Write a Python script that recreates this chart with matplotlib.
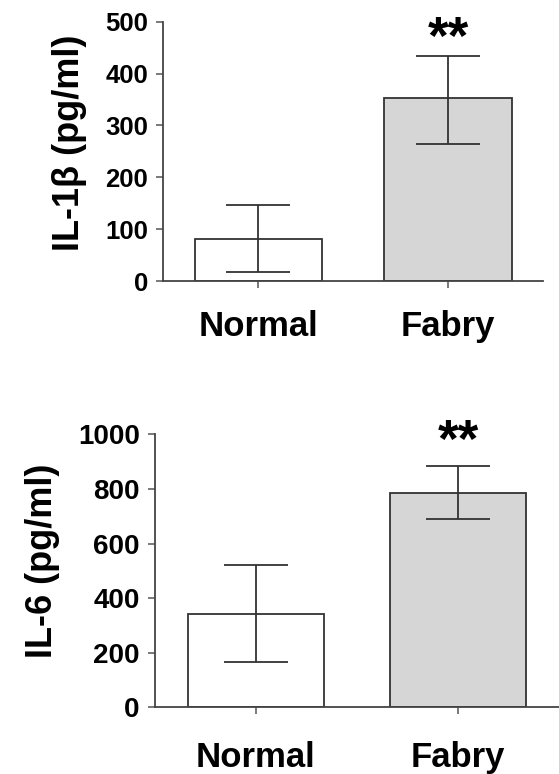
import matplotlib
matplotlib.use('Agg')
import matplotlib.pyplot as plt

plt.rcParams['font.family'] = ['Liberation Sans', 'DejaVu Sans']
plt.rcParams['font.weight'] = 'bold'

groups = ['Normal', 'Fabry']
bar_colors = ['#ffffff', '#d6d6d6']

# IL-1beta
il1b_mean = [81, 352]
il1b_upper = [146, 433]
il1b_lower = [18, 265]

# IL-6
il6_mean = [341, 786]
il6_upper = [521, 885]
il6_lower = [167, 689]

W, H = 559, 774
fig = plt.figure(figsize=(W / 100, H / 100), dpi=100)

ax1 = fig.add_axes([163.3 / W, 1 - 281 / H, (543 - 163.3) / W, (281 - 21.7) / H])
ax2 = fig.add_axes([155 / W, 1 - 707.3 / H, (559 - 155) / W, (707.3 - 434.3) / H])


def panel(ax, mean, upper, lower, ylim, step, ylabel, lab_xy, tick_fs, star_y, xpad):
    x = list(range(len(groups)))
    ax.bar(x, mean, width=0.67, color=bar_colors, edgecolor='#333333', linewidth=1.3, zorder=2)
    yerr = [[m - lo for m, lo in zip(mean, lower)], [u - m for m, u in zip(mean, upper)]]
    ax.errorbar(x, mean, yerr=yerr, fmt='none', ecolor='#333333', elinewidth=1.3,
                capsize=23, capthick=1.3, zorder=3)
    ax.set_xlim(-0.5, 1.5)
    ax.set_ylim(0, ylim)
    ax.set_yticks(range(0, ylim + 1, step))
    ax.set_xticks(x)
    ax.set_xticklabels(groups, fontsize=25, fontweight='bold')
    ax.tick_params(axis='y', labelsize=tick_fs, length=5, width=1.1, pad=6, color='#555555')
    ax.tick_params(axis='x', length=5, width=1.1, pad=xpad, color='#555555')
    for lab in ax.get_yticklabels():
        lab.set_fontweight('bold')
    for s in ['top', 'right']:
        ax.spines[s].set_visible(False)
    for s in ['left', 'bottom']:
        ax.spines[s].set_linewidth(1.3)
        ax.spines[s].set_color('#444444')
    ax.set_ylabel(ylabel, fontsize=26, fontweight='bold', va='center')
    ax.yaxis.set_label_coords(*lab_xy)
    ax.text(1, star_y, '**', fontsize=38, fontweight='bold', ha='center', va='center', clip_on=False)


panel(ax1, il1b_mean, il1b_upper, il1b_lower, 500, 100, 'IL-1β (pg/ml)', (-0.248, 0.534), 18.5, 465, 16)
panel(ax2, il6_mean, il6_upper, il6_lower, 1000, 200, 'IL-6 (pg/ml)', (-0.278, 0.536), 20, 968, 19)

fig.savefig('out.png', dpi=100)
